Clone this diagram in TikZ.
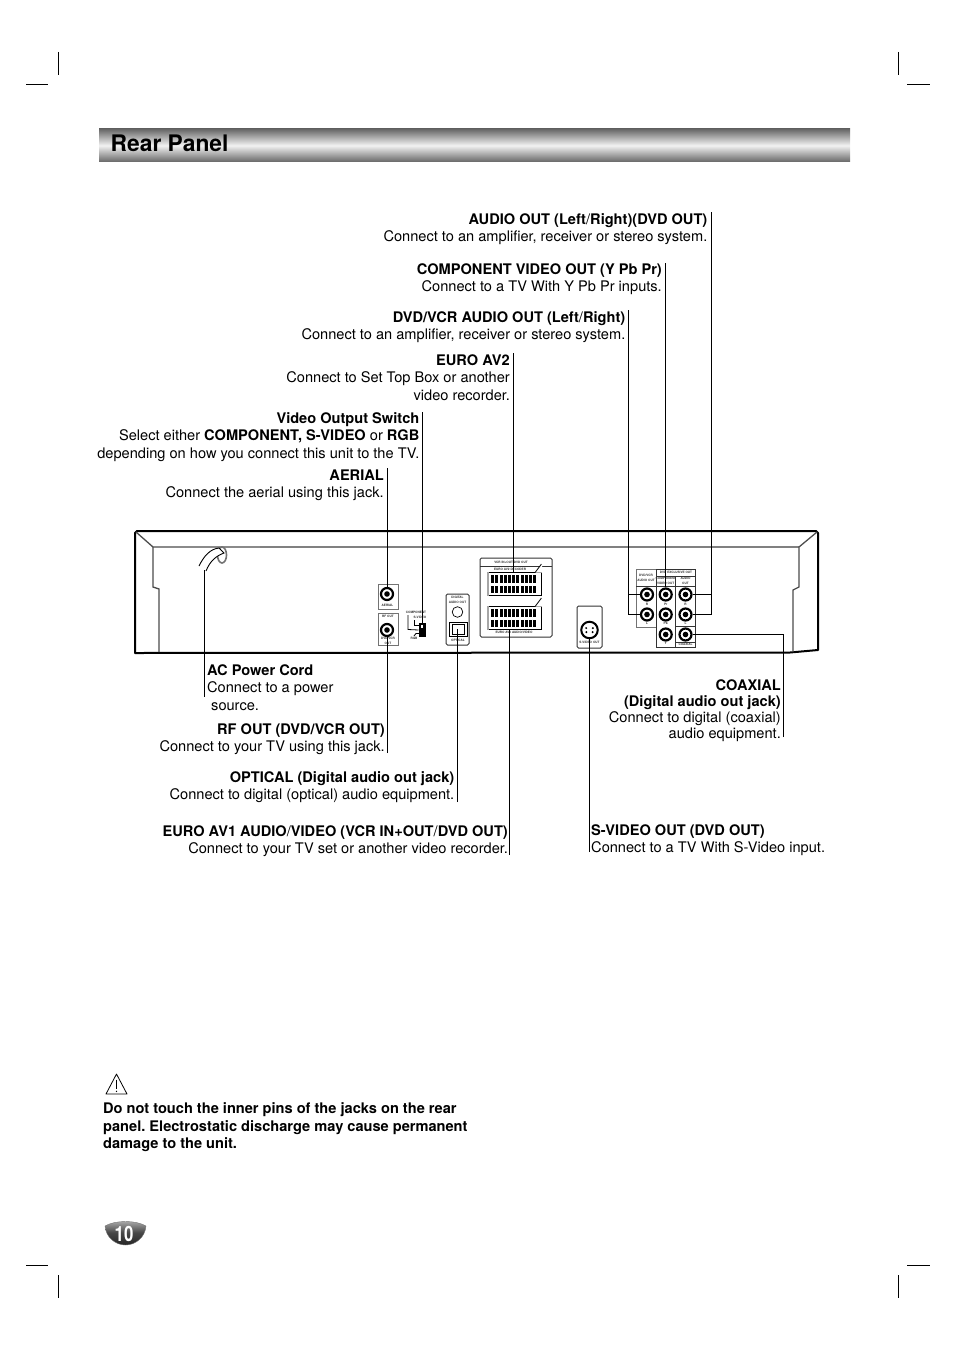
\documentclass[tikz,border=0pt]{standalone}
\usepackage{fontspec}
\setmainfont{TeX Gyre Heros}
\usetikzlibrary{arrows.meta,positioning,calc}
\definecolor{panelgray}{gray}{0.45}
\frenchspacing
\tikzset{
  note/.style={
    inner sep=0pt,
    align=right,
    anchor=north east,
    font=\fontsize{14.6}{17.4}\selectfont
  },
  noteleft/.style={
    note,
    align=left,
    anchor=north west
  },
  line/.style={
    line width=0.9pt
  },
  crop/.style={
    line width=0.8pt
  },
  jack/.style={
    draw,
    circle,
    fill=white,
    line width=2.2pt,
    minimum size=12pt,
    inner sep=0pt,
    path picture={\fill[black] (path picture bounding box.center) circle (2.8pt);}
  },
  tiny/.style={
    inner sep=0pt,
    align=center,
    font=\bfseries\fontsize{3.1}{5.2}\selectfont,
    text=black!80
  },
  case/.style={
    line width=2pt,
    line join=round
  },
  caseinner/.style={
    line width=1.3pt,
    draw=black!70
  },
  plate/.style={
    draw=panelgray,
    line width=0.9pt
  },
  platedark/.style={
    draw=black!80,
    line width=1pt,
    rounded corners=1.5pt
  },
  scart/.style={
    draw,
    line width=0.8pt,
    minimum width=54pt,
    minimum height=23pt,
    inner sep=0pt
  }
}
% connector with two rows of pins
\newcommand{\scartjack}[2]{
  \node[scart] (#1) at (#2) {};
  \fill[black!35] ($(#1.north west)+(0,0)$) rectangle ($(#1.south west)+(2.5,0)$);
  \fill[white] ($(#1.north east)+(-6,0.6)$) -- ($(#1.north east)+(0.6,0.6)$) -- ($(#1.north east)+(0.6,-8)$) -- cycle;
  \draw[line width=0.8pt] ($(#1.north east)+(-6,0)$) -- ($(#1.north east)+(0,-8)$);
  \foreach \i in {0,...,10} {
    \fill ($(#1.west)+(4.6+\i*4.2,2)$) rectangle ++(2.9,6.6);
    \fill ($(#1.west)+(4.6+\i*4.2,-8.6)$) rectangle ++(2.9,7.2);
  }
}

\begin{document}
\begin{tikzpicture}[x=1pt,y=-1pt]
\useasboundingbox (0,0) rectangle (954,1351);

% crop marks
\draw[crop] (58,52) -- (58,75) (26,84) -- (48,84);
\draw[crop] (898,52) -- (898,75) (907,84) -- (930,84);
\draw[crop] (26,1265) -- (48,1265) (58,1275) -- (58,1298);
\draw[crop] (907,1265) -- (930,1265) (898,1275) -- (898,1298);

% title bar
\shade[top color=black!60,bottom color=black!60,middle color=black!5] (99,129) rectangle (850,162);
\node[inner sep=0pt,anchor=west,font=\bfseries\fontsize{22.8}{23}\selectfont] (title) at (110.5,143.5) {Rear Panel};

% case
\draw[case] (137,531) -- (816,531) -- (818,533) -- (818,650) -- (790,652.5) -- (135,653) -- (135,533) -- cycle;
\draw[caseinner] (136,532) -- (153,547) -- (260,547);
\draw[caseinner,black!50] (260,547) -- (799,547);
\draw[caseinner] (817,532) -- (799,547) -- (799,587) -- (793,590) -- (793,652);
\draw[caseinner] (153,547) -- (153,587) -- (159,589) -- (159,652);

% power cord
\draw[black!55,line width=1.6pt] (222,555) ellipse (4.5 and 8);
\draw[line width=0.9pt,fill=white] (199,566) .. controls (204,556) and (210,549) .. (219,548) -- (224,553) .. controls (216,556) and (210,561) .. (206,571);
\coordinate (cord) at (204,570);

% aerial and rf out
\draw[plate] (378,584) rectangle (398,609);
\draw[plate] (378,613) rectangle (398,645);
\node[jack] (aerial) at (387,594) {};
\node[jack] (rfout) at (387,630) {};
\node[tiny] (aeriallabel) at (387.5,605) {AERIAL};
\node[tiny] (rflabel) at (388,616.5) {RF OUT};
\node[tiny] (dvdvcrlabel) at (388,640.5) {DVD/VCR\\OUT};

% video output switch
\node[tiny] (componentlabel) at (416,612) {COMPONENT};
\node[tiny] (svideolabel) at (420,617) {S-VIDEO};
\node[tiny] (rgblabel) at (414,638) {RGB};
\node[draw,fill=black,line width=1pt,minimum width=6pt,minimum height=13pt,inner sep=0pt] (switch) at (422,630) {};
\draw[white,line width=1.4pt] (422,624.5) -- (422,628);
\draw[line width=0.8pt] (408,615) -- (408,629.5) -- (switch.west);
\draw[line width=0.8pt] (414,620) -- (414,625.5) -- (419,625.5);
\draw[line width=0.8pt] (414,636) -- (416,633.5) -- (419,633.5);

% digital audio out
\draw[platedark] (446,594) rectangle (469,645);
\node[tiny] (digitallabel) at (457.5,600) {DIGITAL\\AUDIO OUT};
\draw[line width=0.7pt] (457.5,612) circle (5.3);
\draw[line width=0.9pt] (449,622) rectangle (467,636);
\node[draw,line width=0.9pt,minimum width=12pt,minimum height=10pt,inner sep=0pt] (optical) at (458,629) {};
\node[tiny] (opticallabel) at (458,640.5) {OPTICAL};

% euro av panel
\draw[platedark] (480,558) rectangle (552,637);
\draw[line width=0.8pt,black!80] (480,566) -- (552,566);
\node[tiny] (vcrlabel) at (511,562) {VCR IN+OUT/DVD OUT};
\node[tiny] (av2label) at (510,569) {EURO AV2 DECODER};
\node[tiny] (av1label) at (514,632.5) {EURO AV1 AUDIO/VIDEO};
\scartjack{avtwo}{514,584}
\scartjack{avone}{514,618}

% s-video
\draw[platedark] (577,606) rectangle (602,648);
\node[draw,circle,line width=2pt,minimum size=16.5pt,inner sep=0pt] (svideo) at (589.5,630) {};
\foreach \a in {30,150,215,325} \fill (svideo.center) ++(\a:-3.8) circle (1.1);
\node[tiny] (svideoout) at (589.5,642.5) {S-VIDEO OUT};

% output jacks
\draw[plate] (636,569.5) rectangle (656,627);
\draw[line width=0.9pt,black!80] (656,569.5) rectangle (695,647.5);
\draw[line width=0.8pt,black!80] (656,576) -- (695,576) (636,586) -- (695,586) (675.5,576) -- (675.5,647.5) (675.5,626) -- (695,626) (675.5,642) -- (695,642);
\node[tiny] (mixlabel) at (646,577.5) {DVD/VCR\\AUDIO OUT};
\node[tiny] (exclusivelabel) at (676,572.8) {DVD EXCLUSIVE OUT};
\node[tiny] (comvideolabel) at (665.7,581) {COMPONENT\\VIDEO OUT};
\node[tiny] (audiolabel) at (685.5,581) {AUDIO\\OUT};
\node[jack] (mixR) at (647,594.5) {};
\node[jack,below=5.8pt of mixR] (mixL) {};
\node[jack] (pr) at (665.7,594.5) {};
\node[jack,below=5.8pt of pr] (pb) {};
\node[jack,below=5.8pt of pb] (compY) {};
\node[jack] (audioR) at (685.5,594.5) {};
\node[jack,below=5.8pt of audioR] (audioL) {};
\node[jack,below=5.8pt of audioL] (coaxial) {};
\node[tiny] (mixRlabel) at (647,604) {R};
\node[tiny] (mixLlabel) at (647,623.5) {L};
\node[tiny] (prlabel) at (665.7,604) {Pr};
\node[tiny] (pblabel) at (665.7,623.5) {Pb};
\node[tiny] (ylabel) at (665.7,643.5) {Y};
\node[tiny] (audioRlabel) at (685.5,604) {R};
\node[tiny] (audioLlabel) at (685.5,623.5) {L};
\node[tiny] (coaxlabel) at (685.5,644.8) {COAXIAL};

% labels above the unit
\node[note] (audioout) at (707.5,213.5) {\textbf{AUDIO OUT (Left}/\textbf{Right)(DVD OUT)}\\Connect to an amplifier, receiver or stereo system.};
\node[note] (component) at (662,263) {\textbf{COMPONENT VIDEO OUT (Y Pb Pr)}\\Connect to a TV With Y Pb Pr inputs.};
\node[note] (mixout) at (625.5,311.5) {\textbf{DVD/VCR AUDIO OUT (Left}/\textbf{Right)}\\Connect to an amplifier, receiver or stereo system.};
\node[note] (euroav2) at (510,354.4) {\textbf{EURO AV2}\\Connect to Set Top Box or another\\video recorder.};
\node[note] (videoswitch) at (419.5,412.2) {\textbf{Video Output Switch}\\Select either \textbf{COMPONENT, S-VIDEO} or \textbf{RGB}\\depending on how you connect this unit to the TV.};
\node[note] (aeriallab) at (384,469.6) {\textbf{AERIAL}\\Connect the aerial using this jack.};

% labels below the unit
\node[noteleft] (acpower) at (207,664.4) {\textbf{AC Power Cord}\\Connect to a power\\\hspace*{4pt}source.};
\node[note] (rflab) at (385,723.5) {\textbf{RF OUT (DVD/VCR OUT)}\\Connect to your TV using this jack.};
\node[note] (opticallab) at (454.5,771.2) {\textbf{OPTICAL (Digital audio out jack)}\\Connect to digital (optical) audio equipment.};
\node[note] (euroav1) at (508,825) {\textbf{EURO AV1 AUDIO}/\textbf{VIDEO (VCR IN+OUT}/\textbf{DVD OUT)}\\Connect to your TV set or another video recorder.};
\node[noteleft] (svideolab) at (591,824) {\textbf{S-VIDEO OUT (DVD OUT)}\\Connect to a TV With S-Video input.};
\node[note,font=\fontsize{14.6}{16}\selectfont] (coaxiallab) at (781,679) {\textbf{COAXIAL}\\\textbf{(Digital audio out jack)}\\Connect to digital (coaxial)\\audio equipment.};

% leader ends
\coordinate (audiotop) at (711.5,212);
\coordinate (componenttop) at (665.7,263);
\coordinate (mixtop) at (628.8,310);
\coordinate (av2top) at (513.5,353);
\coordinate (switchtop) at (422,412);
\coordinate (aerialtop) at (387,468);
\coordinate (acend) at (204,697);
\coordinate (rfend) at (387,753);
\coordinate (opticalend) at (457.5,802);
\coordinate (av1end) at (509,855);
\coordinate (svideoend) at (589,852);
\coordinate (coaxialend) at (783,737);

\draw[line] (audiotop) |- (audioL);
\draw[line] (audiotop |- audioR) -- (audioR);
\draw[line] (componenttop) -- (pr);
\draw[line] (mixtop) |- (mixL);
\draw[line] (mixtop |- mixR) -- (mixR);
\draw[line] (av2top) -- (av2top |- avtwo.north);
\draw[line] (switchtop) -- (switchtop |- switch.north);
\draw[line] (aerialtop) -- (aerial);
\draw[line] (cord) -- (acend);
\draw[line] (rfend) -- (rfout);
\draw[line] (opticalend) -- (opticalend |- optical.center);
\draw[line] (av1end) -- (av1end |- avone.south);
\draw[line] (svideoend) -- (svideoend |- svideo.south);
\draw[line] (coaxialend) |- (coaxial);

% caution
\draw[line width=0.8pt,line join=round] (116.5,1074) -- (127,1094) -- (106,1094) -- cycle;
\draw[line width=1pt] (116.5,1079.5) -- (116.5,1089);
\fill (116.5,1091.3) circle (0.7);
\node[noteleft,font=\bfseries\fontsize{14.6}{17.6}\selectfont] (warning) at (103,1102.4) {Do not touch the inner pins of the jacks on the rear\\panel. Electrostatic discharge may cause permanent\\damage to the unit.};

% page number
\shade[top color=black!30,bottom color=black!85,middle color=black!72,draw=black!55] (105,1226) .. controls (115,1220) and (136,1220) .. (146,1226) .. controls (145,1238) and (135,1245) .. (125.5,1245) .. controls (116,1245) and (106,1238) .. (105,1226) -- cycle;
\node[inner sep=0pt,text=white,xscale=0.8,font=\bfseries\fontsize{21}{21}\selectfont] (pagenum) at (124,1234) {10};
\end{tikzpicture}
\end{document}
